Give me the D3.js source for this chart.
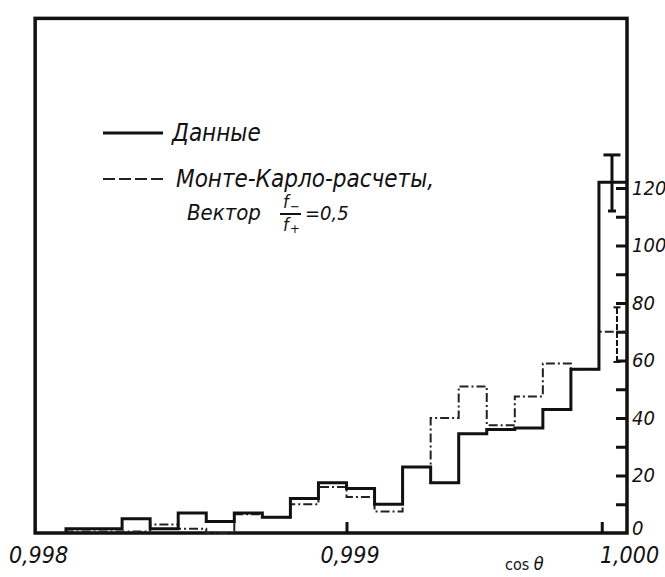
<!DOCTYPE html>
<html>
<head>
<meta charset="utf-8">
<script src="https://cdn.jsdelivr.net/npm/d3@7"></script>
<style>
  body { margin: 0; background: #fff; }
  text {
    font-family: "DejaVu Sans Condensed", "DejaVu Sans", sans-serif;
    font-stretch: condensed;
    font-style: italic;
    fill: #111;
  }
</style>
</head>
<body>
<div id="chart"></div>
<script>
// histogram bins (left edge of each bin, width 0.0001)
const binStarts = [0.9980, 0.9981, 0.9982, 0.9983, 0.9984, 0.9985, 0.9986, 0.9987, 0.9988, 0.9989,
                   0.9990, 0.9991, 0.9992, 0.9993, 0.9994, 0.9995, 0.9996, 0.9997, 0.9998, 0.9999];
const binEnd = 1.000;

// measured events ("Данные")
const dataCounts = [1.5, 1.5, 5, 1.5, 7, 4, 7, 5.5, 12, 17.5, 15.5, 10, 23, 17.5, 34.5, 36, 36.5, 43, 57, 122];
// Monte-Carlo
const mcCounts = [0.5, 0.5, 0.5, 3, 1.5, 0, 6.5, 5.5, 10, 16, 12.5, 7.5, 23, 40, 51, 37.5, 47.5, 59, 57, 70];

// error bars on the last bin
const dataErr = [112, 131.5];
const mcErr = [59.5, 78.5];

const yTicks = [10, 20, 30, 40, 50, 60, 70, 80, 90, 100, 110, 120];
const yTickLabels = [0, 20, 40, 60, 80, 100, 120];
const xTickLabels = [0.998, 0.999, 1.000];
const xTicks = [0.999, 0.99991];

const width = 665;
const height = 577;

// frame limits (the box extends a little beyond the data range)
const frameX = [0.99789, 1.000];
const frameY = [0, 179];

const x = d3.scaleLinear().domain([0.998, 1.000]).range([66, 627]);
const y = d3.scaleLinear().domain([0, 120]).range([533, 188]);

const svg = d3.select("#chart").append("svg")
  .attr("width", width)
  .attr("height", height);

// frame
svg.append("rect")
  .attr("x", x(frameX[0]))
  .attr("y", y(frameY[1]))
  .attr("width", x(frameX[1]) - x(frameX[0]))
  .attr("height", y(frameY[0]) - y(frameY[1]))
  .attr("fill", "none")
  .attr("stroke", "#111")
  .attr("stroke-width", 3.5);

// right axis ticks (pointing inward)
svg.append("g")
  .attr("transform", "translate(" + x(1.000) + ",0)")
  .call(d3.axisLeft(y).tickValues(yTicks).tickSize(11).tickFormat(""))
  .call(g => g.select(".domain").remove())
  .call(g => g.selectAll("line").attr("stroke", "#111").attr("stroke-width", 3));

// right axis labels
svg.append("g")
  .attr("transform", "translate(" + x(1.000) + ",0)")
  .call(d3.axisRight(y).tickValues(yTickLabels).tickSize(0).tickPadding(5).tickFormat(d3.format("d")))
  .call(g => g.select(".domain").remove())
  .call(g => g.selectAll("text")
    .attr("font-size", 20)
    .attr("font-family", null)
    .attr("dy", d => d === 0 ? "0.05em" : "0.32em"));

// bottom axis ticks (pointing up)
svg.append("g")
  .attr("transform", "translate(0," + y(0) + ")")
  .call(d3.axisTop(x).tickValues(xTicks).tickSize(11).tickFormat(""))
  .call(g => g.select(".domain").remove())
  .call(g => g.selectAll("line").attr("stroke", "#111").attr("stroke-width", 3));

// bottom axis labels
const xLabelShift = { "0.998": -28, "0.999": 3, "1": 2 };
svg.append("g")
  .attr("transform", "translate(0," + (y(0) + 3) + ")")
  .call(d3.axisBottom(x).tickValues(xTickLabels).tickSize(0).tickPadding(11)
    .tickFormat(d => d3.format(".3f")(d).replace(".", ",")))
  .call(g => g.select(".domain").remove())
  .call(g => g.selectAll("text")
    .attr("font-size", 23)
    .attr("font-family", null)
    .attr("dx", d => xLabelShift[String(d)]));

// x axis title
const xTitle = svg.append("text")
  .attr("x", 505)
  .attr("y", 570)
  .attr("font-size", 16)
  .style("font-style", "normal");
xTitle.append("tspan").text("cos ");
xTitle.append("tspan").style("font-style", "italic").attr("font-size", 18).text("θ");

// step lines
function stepPoints(counts) {
  const pts = [[binStarts[0], 0]];
  binStarts.forEach((b, i) => pts.push([b, counts[i]]));
  pts.push([binEnd, counts[counts.length - 1]]);
  return pts;
}

const step = d3.line()
  .x(d => x(d[0]))
  .y(d => y(d[1]))
  .curve(d3.curveStepAfter);

svg.append("path")
  .attr("d", step(stepPoints(mcCounts)))
  .attr("fill", "none")
  .attr("stroke", "#222")
  .attr("stroke-width", 2)
  .attr("stroke-dasharray", "9,3,2,3");

svg.append("path")
  .attr("d", step(stepPoints(dataCounts)))
  .attr("fill", "none")
  .attr("stroke", "#111")
  .attr("stroke-width", 3);

// error bars
const lastMid = x(binStarts[binStarts.length - 1] + 0.00005);
function errorBar(range, dx, capTop, capBottom, w, dash) {
  const g = svg.append("g").attr("stroke", "#111").attr("stroke-width", w);
  const cx = lastMid + dx;
  g.append("line").attr("x1", cx).attr("x2", cx).attr("y1", y(range[0])).attr("y2", y(range[1]))
    .attr("stroke-dasharray", dash);
  g.append("line").attr("x1", cx - capTop / 2).attr("x2", cx + capTop / 2).attr("y1", y(range[1])).attr("y2", y(range[1]));
  g.append("line").attr("x1", cx - capBottom / 2).attr("x2", cx + capBottom / 2).attr("y1", y(range[0])).attr("y2", y(range[0]));
}
errorBar(dataErr, -1, 17, 8, 3, null);
errorBar(mcErr, 4, 7, 7, 2, "6,2");

// legend
const legend = svg.append("g");
legend.append("line")
  .attr("x1", 103).attr("x2", 163).attr("y1", 133).attr("y2", 133)
  .attr("stroke", "#111").attr("stroke-width", 3);
legend.append("text").attr("x", 172).attr("y", 141).attr("font-size", 24).text("Данные");

legend.append("line")
  .attr("x1", 103).attr("x2", 163).attr("y1", 179).attr("y2", 179)
  .attr("stroke", "#222").attr("stroke-width", 2)
  .attr("stroke-dasharray", "12,4");
legend.append("text").attr("x", 176).attr("y", 187).attr("font-size", 24).text("Монте-Карло-расчеты,");

const line3 = legend.append("g").attr("transform", "translate(187,220)");
line3.append("text").attr("font-size", 22).text("Вектор");
line3.append("text").attr("x", 96).attr("y", -12).attr("font-size", 18).text("f");
line3.append("text").attr("x", 103).attr("y", -9).attr("font-size", 13).text("−");
line3.append("line").attr("x1", 93).attr("x2", 114).attr("y1", -6).attr("y2", -6)
  .attr("stroke", "#111").attr("stroke-width", 2);
line3.append("text").attr("x", 96).attr("y", 11).attr("font-size", 18).text("f");
line3.append("text").attr("x", 103).attr("y", 13).attr("font-size", 13).text("+");
line3.append("text").attr("x", 118).attr("font-size", 20).text("=0,5");
</script>
</body>
</html>
